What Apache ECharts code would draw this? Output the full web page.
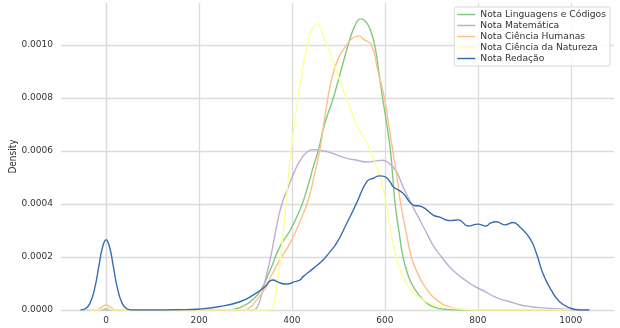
<!DOCTYPE html>
<html>
<head>
<meta charset="utf-8">
<script src="https://cdn.jsdelivr.net/npm/echarts@6/dist/echarts.min.js"></script>
<style>
html,body{margin:0;padding:0;background:#fff;}
#chart{width:620px;height:328px;}
</style>
</head>
<body>
<div id="chart"></div>
<script>
// Tick labels
const xTicks = [0, 200, 400, 600, 800, 1000];
const yTicks = [0, 0.0002, 0.0004, 0.0006, 0.0008, 0.0010];

// Series names
const names = ['Nota Linguagens e Códigos', 'Nota Matemática', 'Nota Ciência Humanas', 'Nota Ciência da Natureza', 'Nota Redação'];

// Densities are written in units of 1e-4
const lcX = [-40,-15,0,15,265,280,295,310,331,353,374,396,417,432,446,457,470,489,505,521,535,548,560,570,578,586,595,605,612,617,622,630,639,650,661,683,707,730,760,1000];
const lcY = [0,0,0.08,0,0,0.05,0.15,0.31,0.69,1.5,2.39,3.0,3.77,4.53,5.41,6.04,7.0,8.0,9.0,10.0,10.7,10.98,10.85,10.5,10.0,9.1,8.0,6.9,6.0,5.0,4.0,3.0,2.0,1.3,0.88,0.38,0.1,0.03,0,0];

const mtX = [-40,300,315,325,335,345,353,362,371,380,389,400,410,420,432,446,460,475,496,518,540,561,580,595,611,625,639,657,675,690,705,722,738,754,775,794,815,833,850,869,890,912,940,969,1000,1040];
const mtY = [0,0,0,0.1,0.6,1.3,1.9,2.7,3.5,4.1,4.5,5.0,5.4,5.7,5.95,6.05,6.02,5.98,5.85,5.72,5.65,5.58,5.62,5.65,5.5,5.22,4.65,4.0,3.4,2.9,2.4,2.0,1.65,1.38,1.1,0.88,0.7,0.52,0.4,0.31,0.2,0.13,0.08,0.05,0.02,0];

const chX = [-40,-20,-10,0,10,20,295,310,324,345,353,374,396,417,435,449,460,470,485,500,518,530,543,555,571,585,599,608,617,626,634,645,657,670,686,711,743,775,800,1000];
const chY = [0,0,0.1,0.19,0.1,0,0,0.1,0.38,0.88,1.2,1.89,2.52,3.33,4.15,5.16,6.04,7.2,8.68,9.5,10.0,10.25,10.34,10.2,10.0,9.0,8.0,7.0,6.0,5.0,4.0,3.0,2.0,1.4,0.88,0.38,0.1,0.02,0,0];

const cnX = [-40,-15,0,15,350,356,362,367,372,377,387,398,413,433,445,455,466,478,490,502,518,539,561,578,590,603,612,624,635,650,665,683,705,732,775,810,1000];
const cnY = [0,0,0.1,0,0,0.02,0.3,0.8,1.5,2.2,4.0,6.0,8.0,10.0,10.65,10.78,10.4,9.9,9.3,8.7,7.95,7.0,6.3,5.6,5.0,4.0,3.0,2.0,1.4,0.88,0.6,0.38,0.2,0.1,0.02,0,0];

const rdX = [-55,-45,-35,-25,-15,-8,0,8,15,25,35,45,55,100,150,202,245,288,317,342,353,360,367,378,385,396,403,417,424,446,467,482,496,518,539,561,575,589,600,611,618,639,661,679,704,718,740,758,779,800,818,826,840,858,876,890,912,926,940,958,976,998,1019,1040];
const rdY = [0,0.04,0.24,0.78,1.7,2.34,2.65,2.34,1.7,0.78,0.24,0.04,0,0,0.01,0.04,0.13,0.31,0.57,0.88,1.1,1.13,1.08,1.0,0.98,1.0,1.05,1.13,1.26,1.57,1.89,2.2,2.52,3.27,4.03,4.84,4.97,5.06,5.03,4.84,4.65,4.4,3.96,3.9,3.58,3.5,3.37,3.4,3.17,3.24,3.17,3.27,3.33,3.21,3.3,3.14,2.7,2.14,1.38,0.75,0.31,0.08,0,0];

const colors = ['#7fc97f', '#beaed4', '#fdc086', '#ffff99', '#386cb0'];
const xsList = [lcX, mtX, chX, cnX, rdX];
const ysList = [lcY, mtY, chY, cnY, rdY];

const font = 'DejaVu Sans';
const gridColor = '#dcdcdc';

const series = names.map((n, i) => ({
  name: n,
  type: 'line',
  data: xsList[i].map((x, k) => [x, ysList[i][k] * 1e-4]),
  showSymbol: false,
  symbol: 'none',
  smooth: 0.5,
  lineStyle: { color: colors[i], width: 1.4 },
  itemStyle: { color: colors[i] },
  z: 2 + i
}));

const chart = echarts.init(document.getElementById('chart'), null, { renderer: 'canvas' });
chart.setOption({
  animation: false,
  backgroundColor: '#ffffff',
  grid: { left: 61, right: 6, top: 3, bottom: 18, containLabel: false, outerBoundsMode: 'none' },
  xAxis: {
    type: 'value', min: -97, max: 1093,
    axisLine: { show: false },
    axisTick: { show: false, customValues: xTicks },
    axisLabel: { customValues: xTicks, fontSize: 9, color: '#333', fontFamily: font, margin: 6,
      formatter: v => String(v) },
    splitLine: { show: true, lineStyle: { color: gridColor, width: 1.3 } }
  },
  yAxis: {
    type: 'value', min: 0, max: 0.001158,
    name: 'Density', nameLocation: 'middle', nameGap: 43, nameMoveOverlap: false,
    nameTextStyle: { fontSize: 10, color: '#333', fontFamily: 'DejaVu Sans Condensed' },
    axisLine: { show: true, lineStyle: { color: gridColor, width: 1.3 } },
    axisTick: { show: false, customValues: yTicks },
    axisLabel: { customValues: yTicks, fontSize: 9, color: '#333', fontFamily: font, margin: 8,
      formatter: v => v.toFixed(4) },
    splitLine: { show: true, lineStyle: { color: gridColor, width: 1.3 } }
  },
  legend: {
    data: names,
    orient: 'vertical',
    right: 10, top: 7,
    icon: 'rect',
    itemWidth: 18, itemHeight: 1.5, itemGap: 2,
    padding: [3, 4, 3, 3],
    borderColor: '#d8d8d8', borderWidth: 1, borderRadius: 2,
    backgroundColor: 'rgba(255,255,255,0.85)',
    textStyle: { fontSize: 9.2, color: '#333', fontFamily: font, lineHeight: 9 }
  },
  series: series
});
</script>
</body>
</html>
